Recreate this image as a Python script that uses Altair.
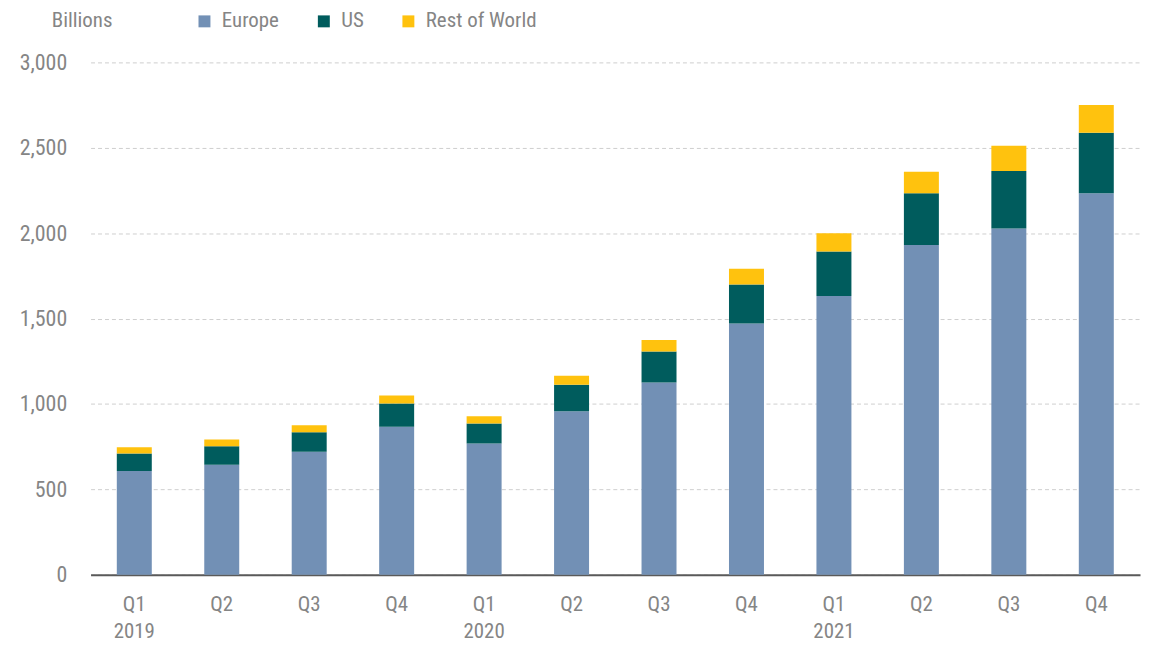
import altair as alt
import pandas as pd

quarters = ["Q1 2019", "Q2", "Q3", "Q4", "Q1 2020", "Q2 ", "Q3 ", "Q4 ",
            "Q1 2021", "Q2  ", "Q3  ", "Q4  "]
europe = [607, 644, 720, 866, 768, 957, 1126, 1471, 1632, 1930, 2027, 2234]
us = [103, 108, 114, 136, 117, 155, 181, 228, 261, 304, 337, 354]
rest = [37, 40, 41, 48, 43, 53, 68, 93, 107, 126, 148, 162]
series = ["Europe", "US", "Rest of World"]
colors = ["#7290B5", "#005C5D", "#FFC20E"]

rows = []
for i, q in enumerate(quarters):
    for s, vals in zip(series, [europe, us, rest]):
        rows.append({"quarter": q, "series": s, "value": vals[i], "order": series.index(s)})
df = pd.DataFrame(rows)

FONT = "Roboto Condensed, Liberation Sans Narrow, Roboto, sans-serif"
GRAY = "#858585"

chart = alt.Chart(df).mark_bar().encode(
    x=alt.X("quarter:N", sort=quarters,
            scale=alt.Scale(paddingInner=0.6, paddingOuter=0.3),
            axis=alt.Axis(title=None, labelAngle=0, ticks=False,
                          labelExpr="split(trim(datum.label), ' ')",
                          labelPadding=19, labelFontSize=21, labelLineHeight=27,
                          labelColor=GRAY, labelFont=FONT,
                          domainColor="#5a5a5a", domainWidth=2)),
    y=alt.Y("value:Q", stack="zero",
            scale=alt.Scale(domain=[0, 3000]),
            axis=alt.Axis(title=None, values=[0, 500, 1000, 1500, 2000, 2500, 3000],
                          format=",.0f", ticks=False, domain=False,
                          labelPadding=24, labelFontSize=22, labelColor=GRAY,
                          labelFont=FONT,
                          gridColor="#cfcfcf", gridDash=[4, 3], gridWidth=1)),
    color=alt.Color("series:N", sort=series,
                    scale=alt.Scale(domain=series, range=colors),
                    legend=alt.Legend(title="Billions", orient="none",
                                      legendX=-39, legendY=-52,
                                      direction="horizontal", titleOrient="left",
                                      titlePadding=81, titleFontWeight="normal",
                                      titleFontSize=21, titleColor=GRAY, titleFont=FONT,
                                      labelFontSize=21, labelColor=GRAY, labelFont=FONT,
                                      symbolType="square", symbolSize=144,
                                      symbolStrokeWidth=0, labelOffset=7,
                                      columnPadding=34)),
    order=alt.Order("order:Q", sort="ascending"),
).properties(
    width=1055, height=515,
    background="white",
    autosize=alt.AutoSizeParams(type="none"),
    padding={"left": 83, "top": 53, "right": 5, "bottom": 70},
).configure_view(stroke=None)

chart.save("out.html", embed_options={"renderer": "svg", "actions": False})
